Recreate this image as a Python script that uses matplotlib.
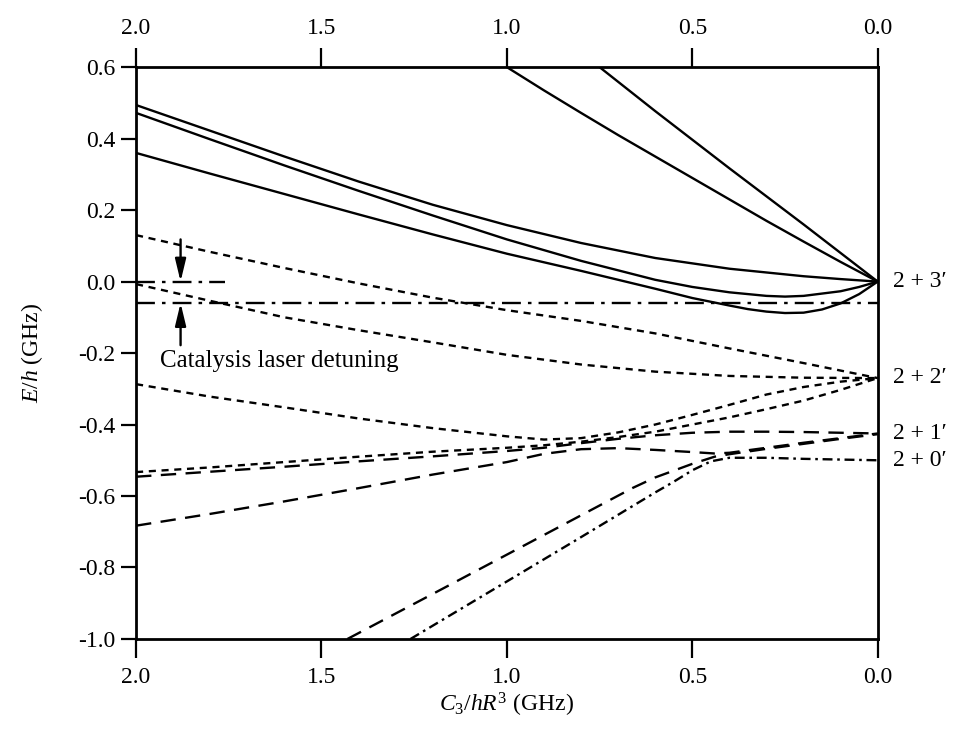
import numpy as np
import matplotlib
matplotlib.use("Agg")
import matplotlib.pyplot as plt

plt.rcParams['font.family'] = ['Liberation Serif', 'DejaVu Serif']
plt.rcParams['mathtext.fontset'] = 'custom'
plt.rcParams['mathtext.rm'] = 'Liberation Serif'
plt.rcParams['mathtext.it'] = 'Liberation Serif:italic'
plt.rcParams['axes.unicode_minus'] = False

# potential curves, x = C3/hR^3 (GHz), y = E/h (GHz)
# 2 + 3' asymptote (solid)
s1_x = [1.0, 0.9, 0.8, 0.7, 0.6, 0.5, 0.4, 0.3, 0.2, 0.1, 0.0]
s1_y = [0.6, 0.535, 0.472, 0.41, 0.35, 0.29, 0.23, 0.17, 0.112, 0.055, 0.0]
s2_x = [0.75, 0.6, 0.4, 0.2, 0.1, 0.0]
s2_y = [0.6, 0.477, 0.317, 0.16, 0.08, 0.0]
s3_x = [2.0, 1.8, 1.6, 1.4, 1.2, 1.0, 0.8, 0.6, 0.4, 0.2, 0.1, 0.0]
s3_y = [0.494, 0.422, 0.350, 0.280, 0.215, 0.158, 0.108, 0.066, 0.036, 0.015, 0.007, 0.0]
s4_x = [2.0, 1.8, 1.6, 1.4, 1.2, 1.0, 0.8, 0.6, 0.5, 0.4, 0.3, 0.25, 0.2, 0.1, 0.05, 0.0]
s4_y = [0.472, 0.398, 0.325, 0.254, 0.185, 0.118, 0.058, 0.005, -0.015, -0.03, -0.04, -0.042,
        -0.040, -0.027, -0.015, 0.0]
s5_x = [2.0, 1.8, 1.6, 1.4, 1.2, 1.0, 0.8, 0.6, 0.5, 0.4, 0.35, 0.3, 0.25, 0.2, 0.15, 0.1,
        0.05, 0.0]
s5_y = [0.36, 0.302, 0.245, 0.188, 0.132, 0.078, 0.030, -0.020, -0.046, -0.067, -0.077, -0.084,
        -0.088, -0.087, -0.078, -0.061, -0.035, 0.0]

# 2 + 2' asymptote (dotted)
d1_x = [2.0, 1.8, 1.6, 1.4, 1.2, 1.0, 0.8, 0.6, 0.4, 0.2, 0.1, 0.0]
d1_y = [0.13, 0.083, 0.038, -0.005, -0.045, -0.08, -0.11, -0.145, -0.187, -0.228, -0.249, -0.27]
d2_x = [2.0, 1.8, 1.6, 1.4, 1.2, 1.0, 0.8, 0.6, 0.4, 0.2, 0.0]
d2_y = [-0.007, -0.054, -0.10, -0.136, -0.17, -0.205, -0.232, -0.252, -0.264, -0.269, -0.27]
d3_x = [2.0, 1.8, 1.6, 1.4, 1.2, 1.0, 0.9, 0.8, 0.7, 0.6, 0.5, 0.4, 0.3, 0.2, 0.1, 0.0]
d3_y = [-0.287, -0.322, -0.352, -0.383, -0.41, -0.433, -0.442, -0.438, -0.422, -0.400, -0.373,
        -0.345, -0.316, -0.295, -0.28, -0.27]
d4_x = [2.0, 1.8, 1.6, 1.4, 1.2, 1.0, 0.9, 0.8, 0.7, 0.6, 0.5, 0.4, 0.3, 0.2, 0.1, 0.0]
d4_y = [-0.533, -0.52, -0.505, -0.49, -0.476, -0.465, -0.458, -0.448, -0.435, -0.42, -0.40,
        -0.38, -0.357, -0.333, -0.303, -0.27]

# 2 + 1' asymptote (dashed)
e1_x = [2.0, 1.8, 1.6, 1.4, 1.2, 1.0, 0.9, 0.8, 0.7, 0.6, 0.5, 0.4, 0.3, 0.2, 0.1, 0.0]
e1_y = [-0.546, -0.532, -0.518, -0.503, -0.489, -0.474, -0.465, -0.452, -0.44, -0.43, -0.423,
        -0.42, -0.42, -0.421, -0.423, -0.425]
e2_x = [2.0, 1.8, 1.6, 1.4, 1.2, 1.0, 0.9, 0.8, 0.7, 0.6, 0.5, 0.44, 0.4, 0.3, 0.2, 0.1, 0.0]
e2_y = [-0.683, -0.65, -0.615, -0.578, -0.54, -0.505, -0.482, -0.469, -0.466, -0.471, -0.477,
        -0.481, -0.479, -0.465, -0.451, -0.438, -0.425]
e3_x = [1.43, 1.2, 1.0, 0.8, 0.66, 0.6, 0.5, 0.44, 0.4, 0.3, 0.2, 0.1, 0.0]
e3_y = [-1.0, -0.874, -0.764, -0.654, -0.577, -0.548, -0.51, -0.49, -0.483, -0.468, -0.454,
        -0.44, -0.427]

# 2 + 0' asymptote (dash-dot)
f1_x = [1.26, 1.0, 0.8, 0.6, 0.55, 0.5, 0.45, 0.4, 0.3, 0.2, 0.1, 0.0]
f1_y = [-1.0, -0.839, -0.715, -0.59, -0.56, -0.528, -0.503, -0.493, -0.493, -0.496, -0.498, -0.5]

asymptote_labels = ["2 + 3\u2032", "2 + 2\u2032", "2 + 1\u2032", "2 + 0\u2032"]
asymptote_y = [0.0, -0.267, -0.424, -0.50]

laser_detuning = -0.06

solid = '-'
dotted = (0, (3.0, 2.4))
dashed = (0, (6.5, 4.0))
dashdot = (0, (4.2, 2.0, 1.1, 2.0))
lw = 1.7

fig = plt.figure(figsize=(9.72, 7.30), dpi=100)
ax = fig.add_axes([0.140, 0.1247, 0.763, 0.7833])

for xs, ys in [(s1_x, s1_y), (s2_x, s2_y), (s3_x, s3_y), (s4_x, s4_y), (s5_x, s5_y)]:
    ax.plot(xs, ys, color='black', lw=lw, ls=solid)
for xs, ys in [(d1_x, d1_y), (d2_x, d2_y), (d3_x, d3_y), (d4_x, d4_y)]:
    ax.plot(xs, ys, color='black', lw=lw, ls=dotted)
for xs, ys in [(e1_x, e1_y), (e2_x, e2_y), (e3_x, e3_y)]:
    ax.plot(xs, ys, color='black', lw=lw, ls=dashed)
ax.plot(f1_x, f1_y, color='black', lw=lw, ls=dashdot)

# catalysis laser detuning marker
ax.plot([2.0, 0.0], [laser_detuning, laser_detuning], color='black', lw=lw,
        ls=(0, (8, 3, 1.5, 3)))
ax.plot([2.0, 1.76], [0.0, 0.0], color='black', lw=lw, ls=(0, (8, 3, 1.5, 3)))
arrow = dict(arrowstyle='-|>,head_width=0.18,head_length=0.75', color='black',
             lw=1.7, mutation_scale=18, shrinkA=0, shrinkB=0)
ax.annotate('', xy=(1.88, 0.0), xytext=(1.88, 0.118), arrowprops=arrow)
ax.annotate('', xy=(1.88, laser_detuning), xytext=(1.88, -0.178), arrowprops=arrow)
ax.text(1.935, -0.222, 'Catalysis laser detuning', fontsize=18, va='center', ha='left')

for lab, yv in zip(asymptote_labels, asymptote_y):
    ax.text(1.02, yv, lab, transform=ax.get_yaxis_transform(), fontsize=17,
            va='center', ha='left')

ax.set_xlim(2.0, 0.0)
ax.set_ylim(-1.0, 0.6)
ax.set_xticks([2.0, 1.5, 1.0, 0.5, 0.0])
ax.set_xticklabels(['2.0', '1.5', '1.0', '0.5', '0.0'])
ax.set_yticks([0.6, 0.4, 0.2, 0.0, -0.2, -0.4, -0.6, -0.8, -1.0])
ax.set_yticklabels(['0.6', '0.4', '0.2', '0.0', '-0.2', '-0.4', '-0.6', '-0.8', '-1.0'])
ax.tick_params(axis='x', direction='out', length=14, width=1.6, labelsize=17,
               top=True, labeltop=True, pad=6)
ax.tick_params(axis='y', direction='out', length=11, width=1.6, labelsize=17,
               right=False, pad=4)
for sp in ax.spines.values():
    sp.set_linewidth(2.0)

ax.set_xlabel(r'$C_3/hR^3$ (GHz)', fontsize=17, labelpad=2)
ax.set_ylabel(r'$E/h$ (GHz)', fontsize=17, labelpad=24)

fig.savefig('out.png', dpi=100)
